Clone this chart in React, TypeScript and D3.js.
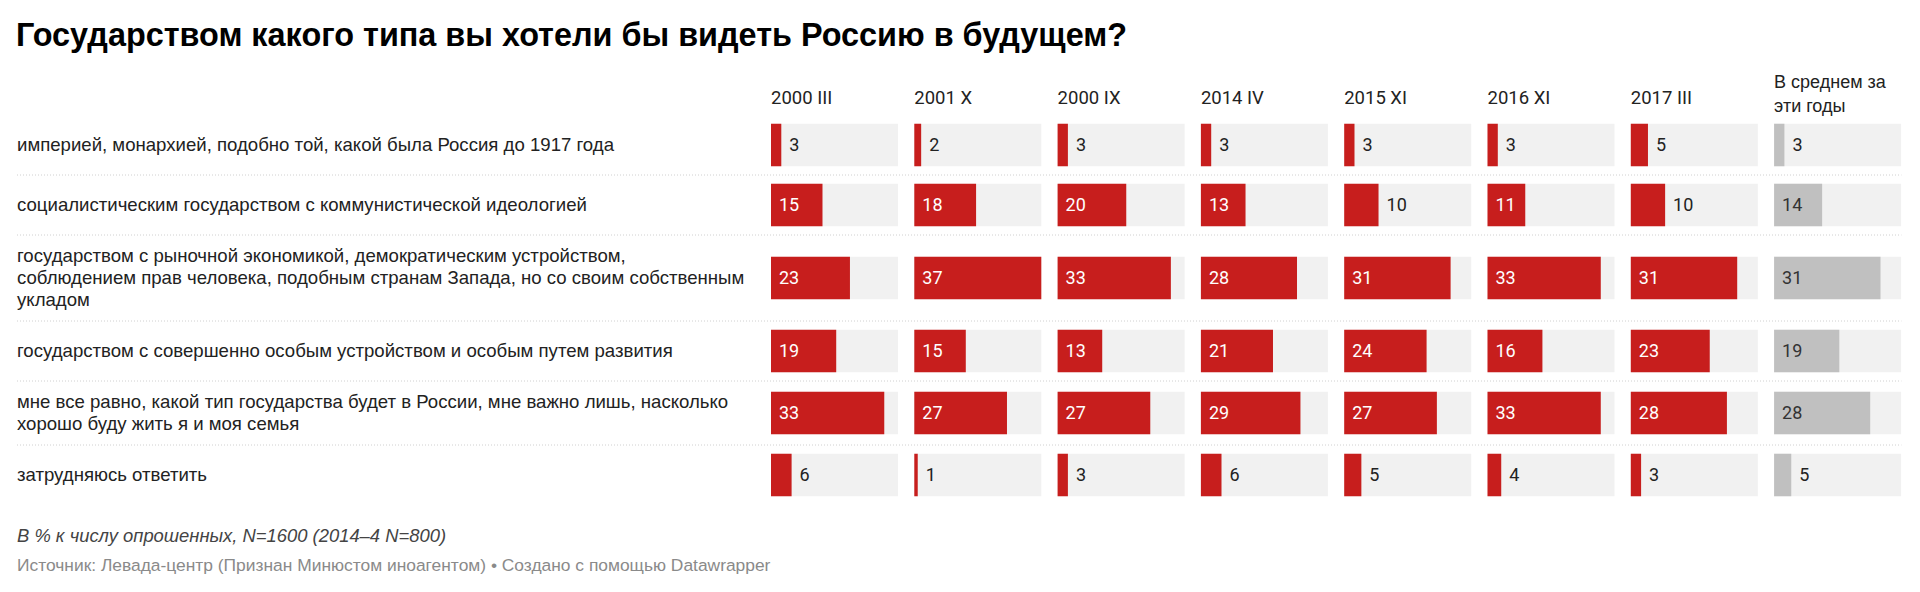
import React from "react";
import * as d3 from "d3";

const title = "Государством какого типа вы хотели бы видеть Россию в будущем?";
const columns = ["2000 III", "2001 X", "2000 IX", "2014 IV", "2015 XI", "2016 XI", "2017 III"];
const avgHeader = ["В среднем за", "эти годы"];
const rowLabels: string[][] = [
  ["империей, монархией, подобно той, какой была Россия до 1917 года"],
  ["социалистическим государством с коммунистической идеологией"],
  [
    "государством с рыночной экономикой, демократическим устройством,",
    "соблюдением прав человека, подобным странам Запада, но со своим собственным",
    "укладом",
  ],
  ["государством с совершенно особым устройством и особым путем развития"],
  [
    "мне все равно, какой тип государства будет в России, мне важно лишь, насколько",
    "хорошо буду жить я и моя семья",
  ],
  ["затрудняюсь ответить"],
];
const values: number[][] = [
  [3, 2, 3, 3, 3, 3, 5],
  [15, 18, 20, 13, 10, 11, 10],
  [23, 37, 33, 28, 31, 33, 31],
  [19, 15, 13, 21, 24, 16, 23],
  [33, 27, 27, 29, 27, 33, 28],
  [6, 1, 3, 6, 5, 4, 3],
];
const averages = [3, 14, 31, 19, 28, 5];
const notes = "В % к числу опрошенных, N=1600 (2014–4 N=800)";
const source = "Источник: Левада-центр (Признан Минюстом иноагентом) • Создано с помощью Datawrapper";

const W = 1904;
const H = 584;
const RED = "#c71e1d";
const GREY = "#c0c0c0";
const BG = "#f1f1f1";
const CYR = "'Liberation Sans', Arial, Helvetica, sans-serif";
const NUM = "Roboto, 'Liberation Sans', sans-serif";

export default function App() {
  const colStart = 763;
  const colPitch = 143.3;
  const colWidth = 127;
  const allCols = [...columns, "avg"];
  const colX = d3
    .scaleBand<string>()
    .domain(allCols)
    .range([colStart, colStart + colPitch * allCols.length])
    .paddingInner(0)
    .paddingOuter(0);
  const x = d3.scaleLinear().domain([0, 37]).range([0, colWidth]);

  const lineH = 22;
  const heights = rowLabels.map((l) => Math.max(60, 20 + lineH * l.length));
  const tops: number[] = [];
  let acc = 107;
  heights.forEach((h) => {
    tops.push(acc);
    acc += h;
  });
  const barH = 42.5;
  const labelX = 9;

  return (
    <svg width={W} height={H} style={{ display: "block", background: "#fff" }}>
      <text x={8} y={38} fontFamily={CYR} fontWeight={700} fontSize={32.4} fill="#000">
        {title}
      </text>
      {columns.map((c) => (
        <text key={c} x={colX(c)} y={96} fontFamily={NUM} fontSize={18.5} fill="#222">
          {c}
        </text>
      ))}
      {avgHeader.map((t, i) => (
        <text key={t} x={colX("avg")} y={80.3 + i * 23.4} fontFamily={CYR} fontSize={18} fill="#222">
          {t}
        </text>
      ))}
      {rowLabels.map((lines, r) => {
        const top = tops[r];
        const h = heights[r];
        const cy = top + h / 2;
        const blockTop = cy - (lines.length * lineH) / 2;
        return (
          <g key={r}>
            {r > 0 && (
              <line
                x1={labelX}
                x2={colStart + colPitch * allCols.length - 16}
                y1={top}
                y2={top}
                stroke="#d0d0d0"
                strokeDasharray="1,2"
              />
            )}
            {lines.map((ln, i) => (
              <text
                key={i}
                x={labelX}
                y={blockTop + i * lineH + lineH / 2 + 6.4}
                fontFamily={CYR}
                fontSize={18.6}
                fill="#222"
              >
                {ln}
              </text>
            ))}
            {allCols.map((c, ci) => {
              const isAvg = c === "avg";
              const v = isAvg ? averages[r] : values[r][ci];
              const x0 = colX(c) as number;
              const bw = x(v);
              const inside = bw > 36;
              const by = cy - barH / 2;
              return (
                <g key={c}>
                  <rect x={x0} y={by} width={colWidth} height={barH} fill={BG} />
                  <rect x={x0} y={by} width={bw} height={barH} fill={isAvg ? GREY : RED} />
                  <text
                    x={inside ? x0 + 8 : x0 + bw + 8}
                    y={cy + 6.4}
                    fontFamily={NUM}
                    fontSize={18}
                    fill={inside ? (isAvg ? "#333" : "#fff") : "#222"}
                  >
                    {v}
                  </text>
                </g>
              );
            })}
          </g>
        );
      })}
      <text x={labelX} y={534} fontFamily={CYR} fontStyle="italic" fontSize={18.4} fill="#444">
        {notes}
      </text>
      <text x={labelX} y={563} fontFamily={CYR} fontSize={17.4} fill="#8a8a8a">
        {source}
      </text>
    </svg>
  );
}
